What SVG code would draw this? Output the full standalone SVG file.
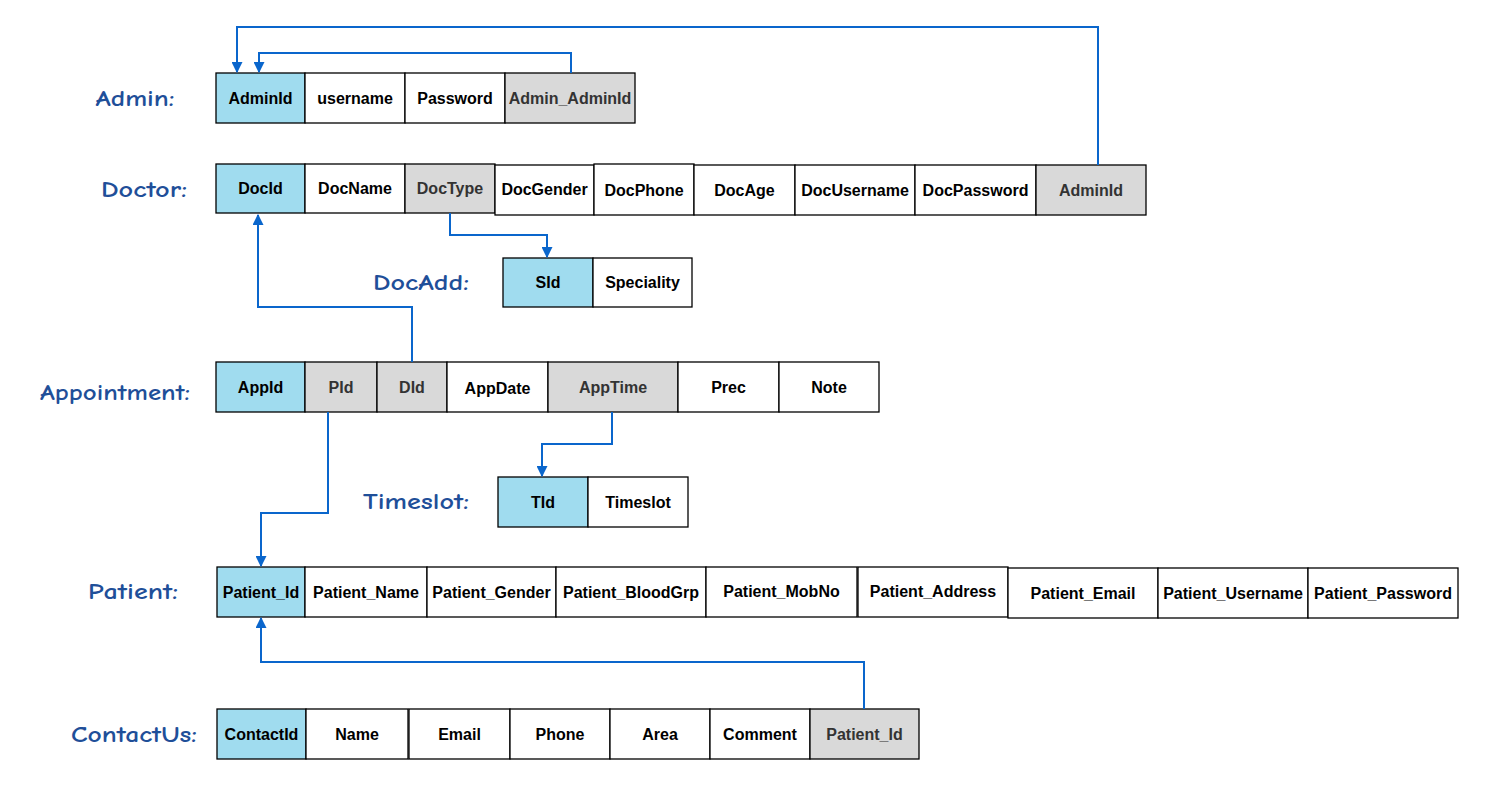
<svg xmlns="http://www.w3.org/2000/svg" width="1511" height="793" viewBox="0 0 1511 793">
<defs>
<style>
.c{stroke:#000;stroke-width:1.3;fill:#fff}
.pk{fill:#a0dcef}
.fk{fill:#d9d9d9}
.t{font-family:"Liberation Sans",Arial,sans-serif;font-size:16px;font-weight:bold;fill:#000;text-anchor:middle;dominant-baseline:central}
.tf{fill:#333}
.lb{font-family:"Comic Sans MS","Comic Neue","DejaVu Sans",sans-serif;font-size:23px;font-weight:bold;fill:#1f4f99;text-anchor:middle;dominant-baseline:central}
.e{fill:none;stroke:#0a66cc;stroke-width:2}
</style>
<marker id="a" viewBox="0 0 10 10" refX="9" refY="5" markerWidth="11" markerHeight="11" orient="auto" markerUnits="userSpaceOnUse">
<path d="M0,0 L10,5 L0,10 z" fill="#0a66cc"/>
</marker>
</defs>
<rect width="1511" height="793" fill="#fff"/>

<g id="labels">
<text class="lb" x="135" y="98" textLength="79" lengthAdjust="spacingAndGlyphs">Admin:</text>
<text class="lb" x="144" y="189" textLength="86" lengthAdjust="spacingAndGlyphs">Doctor:</text>
<text class="lb" x="421" y="282" textLength="96" lengthAdjust="spacingAndGlyphs">DocAdd:</text>
<text class="lb" x="115" y="392" textLength="150" lengthAdjust="spacingAndGlyphs">Appointment:</text>
<text class="lb" x="416" y="501" textLength="106" lengthAdjust="spacingAndGlyphs">Timeslot:</text>
<text class="lb" x="133" y="591" textLength="90" lengthAdjust="spacingAndGlyphs">Patient:</text>
<text class="lb" x="134" y="734" textLength="126" lengthAdjust="spacingAndGlyphs">ContactUs:</text>
</g>

<g id="admin">
<rect class="c pk" x="216" y="73" width="89" height="50"/><text class="t" x="260.5" y="98">AdminId</text>
<rect class="c" x="305" y="73" width="100" height="50"/><text class="t" x="355" y="98">username</text>
<rect class="c" x="405" y="73" width="100" height="50"/><text class="t" x="455" y="98">Password</text>
<rect class="c fk" x="505" y="73" width="130" height="50"/><text class="t tf" x="570" y="98">Admin_AdminId</text>
</g>

<g id="doctor">
<rect class="c pk" x="216" y="164" width="89" height="49"/><text class="t" x="260.5" y="188">DocId</text>
<rect class="c" x="305" y="164" width="100" height="49"/><text class="t" x="355" y="188">DocName</text>
<rect class="c fk" x="405" y="164" width="90" height="49"/><text class="t tf" x="450" y="188">DocType</text>
<rect class="c" x="495" y="165" width="99" height="50"/><text class="t" x="544.5" y="189">DocGender</text>
<rect class="c" x="594" y="164" width="100" height="51"/><text class="t" x="644" y="190">DocPhone</text>
<rect class="c" x="694" y="165" width="101" height="50"/><text class="t" x="744.5" y="190">DocAge</text>
<rect class="c" x="795" y="165" width="120" height="50"/><text class="t" x="855" y="190">DocUsername</text>
<rect class="c" x="915" y="165" width="121" height="50"/><text class="t" x="975.5" y="190">DocPassword</text>
<rect class="c fk" x="1036" y="165" width="110" height="50"/><text class="t tf" x="1091" y="190">AdminId</text>
</g>

<g id="docadd">
<rect class="c pk" x="503" y="258" width="90" height="49"/><text class="t" x="548" y="282">SId</text>
<rect class="c" x="593" y="258" width="99" height="49"/><text class="t" x="642.5" y="282">Speciality</text>
</g>

<g id="appointment">
<rect class="c pk" x="216" y="362" width="89" height="50"/><text class="t" x="260.5" y="387">AppId</text>
<rect class="c fk" x="305" y="362" width="72" height="50"/><text class="t tf" x="341" y="387">PId</text>
<rect class="c fk" x="377" y="362" width="70" height="50"/><text class="t tf" x="412" y="387">DId</text>
<rect class="c" x="447" y="362" width="101" height="50"/><text class="t" x="497.5" y="388">AppDate</text>
<rect class="c fk" x="548" y="362" width="130" height="50"/><text class="t tf" x="613" y="387">AppTime</text>
<rect class="c" x="678" y="362" width="101" height="50"/><text class="t" x="728.5" y="387">Prec</text>
<rect class="c" x="779" y="362" width="100" height="50"/><text class="t" x="829" y="387">Note</text>
</g>

<g id="timeslot">
<rect class="c pk" x="498" y="477" width="90" height="50"/><text class="t" x="543" y="502">TId</text>
<rect class="c" x="588" y="477" width="100" height="50"/><text class="t" x="638" y="502">Timeslot</text>
</g>

<g id="patient">
<rect class="c pk" x="217" y="567" width="88" height="50"/><text class="t" x="261" y="592">Patient_Id</text>
<rect class="c" x="305" y="567" width="122" height="50"/><text class="t" x="366" y="592">Patient_Name</text>
<rect class="c" x="427" y="567" width="129" height="50"/><text class="t" x="491.5" y="592">Patient_Gender</text>
<rect class="c" x="556" y="567" width="150" height="50"/><text class="t" x="631" y="592">Patient_BloodGrp</text>
<rect class="c" x="706" y="567" width="151" height="50"/><text class="t" x="781.5" y="591">Patient_MobNo</text>
<rect class="c" x="858" y="567" width="150" height="50"/><text class="t" x="933" y="591">Patient_Address</text>
<rect class="c" x="1008" y="568" width="150" height="50"/><text class="t" x="1083" y="593">Patient_Email</text>
<rect class="c" x="1158" y="568" width="150" height="50"/><text class="t" x="1233" y="593">Patient_Username</text>
<rect class="c" x="1308" y="568" width="150" height="50"/><text class="t" x="1383" y="593">Patient_Password</text>
</g>

<g id="contactus">
<rect class="c pk" x="217" y="709" width="89" height="50"/><text class="t" x="261.5" y="734">ContactId</text>
<rect class="c" x="306" y="709" width="102" height="50"/><text class="t" x="357" y="734">Name</text>
<rect class="c" x="409" y="709" width="101" height="50"/><text class="t" x="459.5" y="734">Email</text>
<rect class="c" x="510" y="709" width="100" height="50"/><text class="t" x="560" y="734">Phone</text>
<rect class="c" x="610" y="709" width="100" height="50"/><text class="t" x="660" y="734">Area</text>
<rect class="c" x="710" y="709" width="100" height="50"/><text class="t" x="760" y="734">Comment</text>
<rect class="c fk" x="810" y="709" width="109" height="50"/><text class="t tf" x="864.5" y="734">Patient_Id</text>
</g>

<g id="connectors">
<path class="e" d="M1098,165 V27 H237 V72" marker-end="url(#a)"/>
<path class="e" d="M571,73 V53 H259 V72" marker-end="url(#a)"/>
<path class="e" d="M450,213 V235 H547 V257" marker-end="url(#a)"/>
<path class="e" d="M412,362 V307 H258 V215" marker-end="url(#a)"/>
<path class="e" d="M612,412 V444 H542 V476" marker-end="url(#a)"/>
<path class="e" d="M328,412 V513 H261 V566" marker-end="url(#a)"/>
<path class="e" d="M864,709 V662 H261 V618" marker-end="url(#a)"/>
</g>
</svg>
